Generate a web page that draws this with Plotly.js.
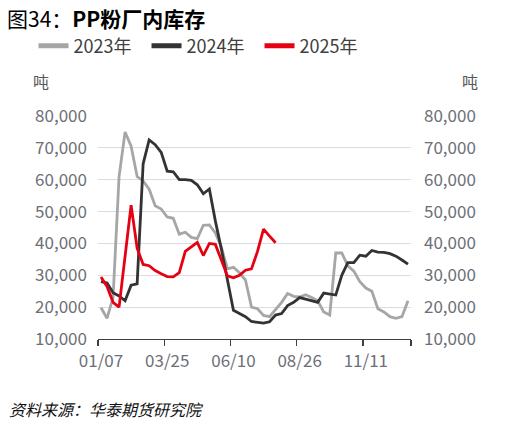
<!DOCTYPE html>
<html>
<head>
<meta charset="utf-8">
<script src="https://cdn.plot.ly/plotly-3.0.1.min.js"></script>
<style>
html,body{margin:0;padding:0;background:#fff;}
#chart{width:519px;height:426px;}
</style>
</head>
<body>
<div id="chart"></div>
<script>
// Weekly categories (week starting dates)
var weeks = ["01/07","01/14","01/21","01/28","02/04","02/11","02/18","02/25","03/04","03/11",
  "03/18","03/25","04/01","04/08","04/15","04/22","04/29","05/06","05/13","05/20",
  "05/27","06/03","06/10","06/17","06/24","07/01","07/08","07/15","07/22","07/29",
  "08/05","08/12","08/19","08/26","09/02","09/09","09/16","09/23","09/30","10/07",
  "10/14","10/21","10/28","11/04","11/11","11/18","11/25","12/02","12/09","12/16",
  "12/23","12/30"];

// PP powder factory inventory, tonnes
var inv2023 = [19800,16500,23000,61000,75000,70500,61000,59600,57000,51800,
  50800,48300,47900,42900,43500,41900,41500,45700,45800,43300,
  38800,32000,32500,30800,28500,20000,19500,17400,17000,19400,
  21500,24300,23400,23200,23900,23000,22000,18500,17500,37000,
  37000,33000,31300,28000,26000,25000,19500,18500,17000,16500,
  17000,22000];
var inv2024 = [28000,27600,24500,23500,22000,26900,27300,65000,72500,71000,
  68600,62700,62500,60000,60000,59800,58400,55600,57100,47000,
  38200,28600,19000,18000,17000,15500,15200,15000,15400,17500,
  18000,20500,21500,23000,22500,22000,21500,24400,24000,23800,
  30000,34000,34000,36300,36000,37800,37300,37200,36800,36000,
  34800,33500];
var inv2025 = [29500,26500,21500,20000,36000,52000,38500,33400,33000,31500,
  30500,29600,29500,30800,37500,39000,40300,36200,40000,39700,
  35000,29800,29200,30000,31600,32000,37500,44500,42300,40200];

var seriesNames = ["2023年","2024年","2025年"];
var seriesColors = ["#a6a6a6","#333333","#e60012"];

var yTicks = [10000,20000,30000,40000,50000,60000,70000,80000];
var xLabelWeeks = ["01/07","03/25","06/10","08/26","11/11"];

var tickFont = {family:"Noto Sans CJK SC, Noto Sans, sans-serif", size:17, color:"#6e6f78"};

var allSeries = [inv2023, inv2024, inv2025];
var traces = allSeries.map(function(vals, k){
  return {
    type:"scatter", mode:"lines",
    x: weeks.slice(0, vals.length), y: vals,
    name: seriesNames[k], showlegend:false,
    line:{color:seriesColors[k], width:2.8},
    hoverinfo:"skip"
  };
});
// legend entries with the thicker key lines of the original (no visible data)
seriesNames.forEach(function(nm, k){
  traces.push({type:"scatter", mode:"lines", x:[weeks[0]], y:[null], name:nm,
    line:{color:seriesColors[k], width:5}, hoverinfo:"skip", showlegend:true});
});
// right-hand mirror axis carries the same scale
traces.push({type:"scatter", mode:"lines", x: weeks, y: inv2023, yaxis:"y2",
  line:{color:"rgba(0,0,0,0)", width:0}, showlegend:false, hoverinfo:"skip"});

// tick marks at category boundaries, labels at the labelled weeks
var bndTicks = xLabelWeeks.map(function(w){ return weeks.indexOf(w) - 0.5; });
bndTicks.push(weeks.length - 0.5);
var bndText = xLabelWeeks.slice(); bndText.push("");

var layout = {
  width:519, height:426,
  margin:{l:98, r:108, t:116, b:87},
  paper_bgcolor:"#ffffff", plot_bgcolor:"#ffffff",
  showlegend:true,
  title:{text:"图34：<b>PP粉厂内库存</b>", x:7/519, xanchor:"left", xref:"container",
    y:1-20/426, yanchor:"middle", yref:"container",
    font:{family:"Noto Sans CJK SC, sans-serif", size:21, color:"#000"}},
  legend:{orientation:"h", x:-0.206, xanchor:"left", y:1.314, yanchor:"middle",
    font:{family:"Noto Sans CJK SC, Noto Sans, sans-serif", size:18, color:"#404040"},
    bgcolor:"rgba(0,0,0,0)", entrywidth:68, entrywidthmode:"pixels", tracegroupgap:0},
  xaxis:{type:"category", range:[-0.5, weeks.length-0.5],
    tickmode:"array", tickvals:bndTicks, ticktext:bndText,
    ticks:"outside", ticklen:6, tickwidth:1.3, tickcolor:"#404040",
    showline:true, linecolor:"#404040", linewidth:1.3,
    showgrid:false, zeroline:false, tickfont:tickFont, ticklabelshift:3, fixedrange:true},
  yaxis:{range:[10000,80000], tickmode:"array", tickvals:yTicks,
    tickformat:",d", showgrid:true, gridcolor:"#d9dce8", gridwidth:1.2,
    zeroline:false, showline:false, ticks:"", tickfont:tickFont, ticklabelstandoff:10,
    fixedrange:true},
  yaxis2:{range:[10000,80000], tickmode:"array", tickvals:yTicks, tickformat:",d",
    overlaying:"y", side:"right", showgrid:false, zeroline:false, showline:false,
    ticks:"", tickfont:tickFont, ticklabelstandoff:12, fixedrange:true},
  annotations:[
    {text:"吨", xref:"paper", yref:"paper", x:(40.5-98)/313, y:1+(116-81)/223,
     xanchor:"center", yanchor:"middle", showarrow:false,
     font:{family:"Noto Sans CJK SC, sans-serif", size:16, color:"#595959"}},
    {text:"吨", xref:"paper", yref:"paper", x:(470-98)/313, y:1+(116-81)/223,
     xanchor:"center", yanchor:"middle", showarrow:false,
     font:{family:"Noto Sans CJK SC, sans-serif", size:16, color:"#595959"}},
    {text:"<i>资料来源：华泰期货研究院</i>", xref:"paper", yref:"paper",
     x:(7-98)/313, y:(339-409)/223, xanchor:"left", yanchor:"middle", showarrow:false,
     font:{family:"Noto Sans CJK SC, sans-serif", size:16, color:"#111"}}
  ]
};

Plotly.newPlot("chart", traces, layout, {displayModeBar:false, staticPlot:true});
</script>
</body>
</html>
